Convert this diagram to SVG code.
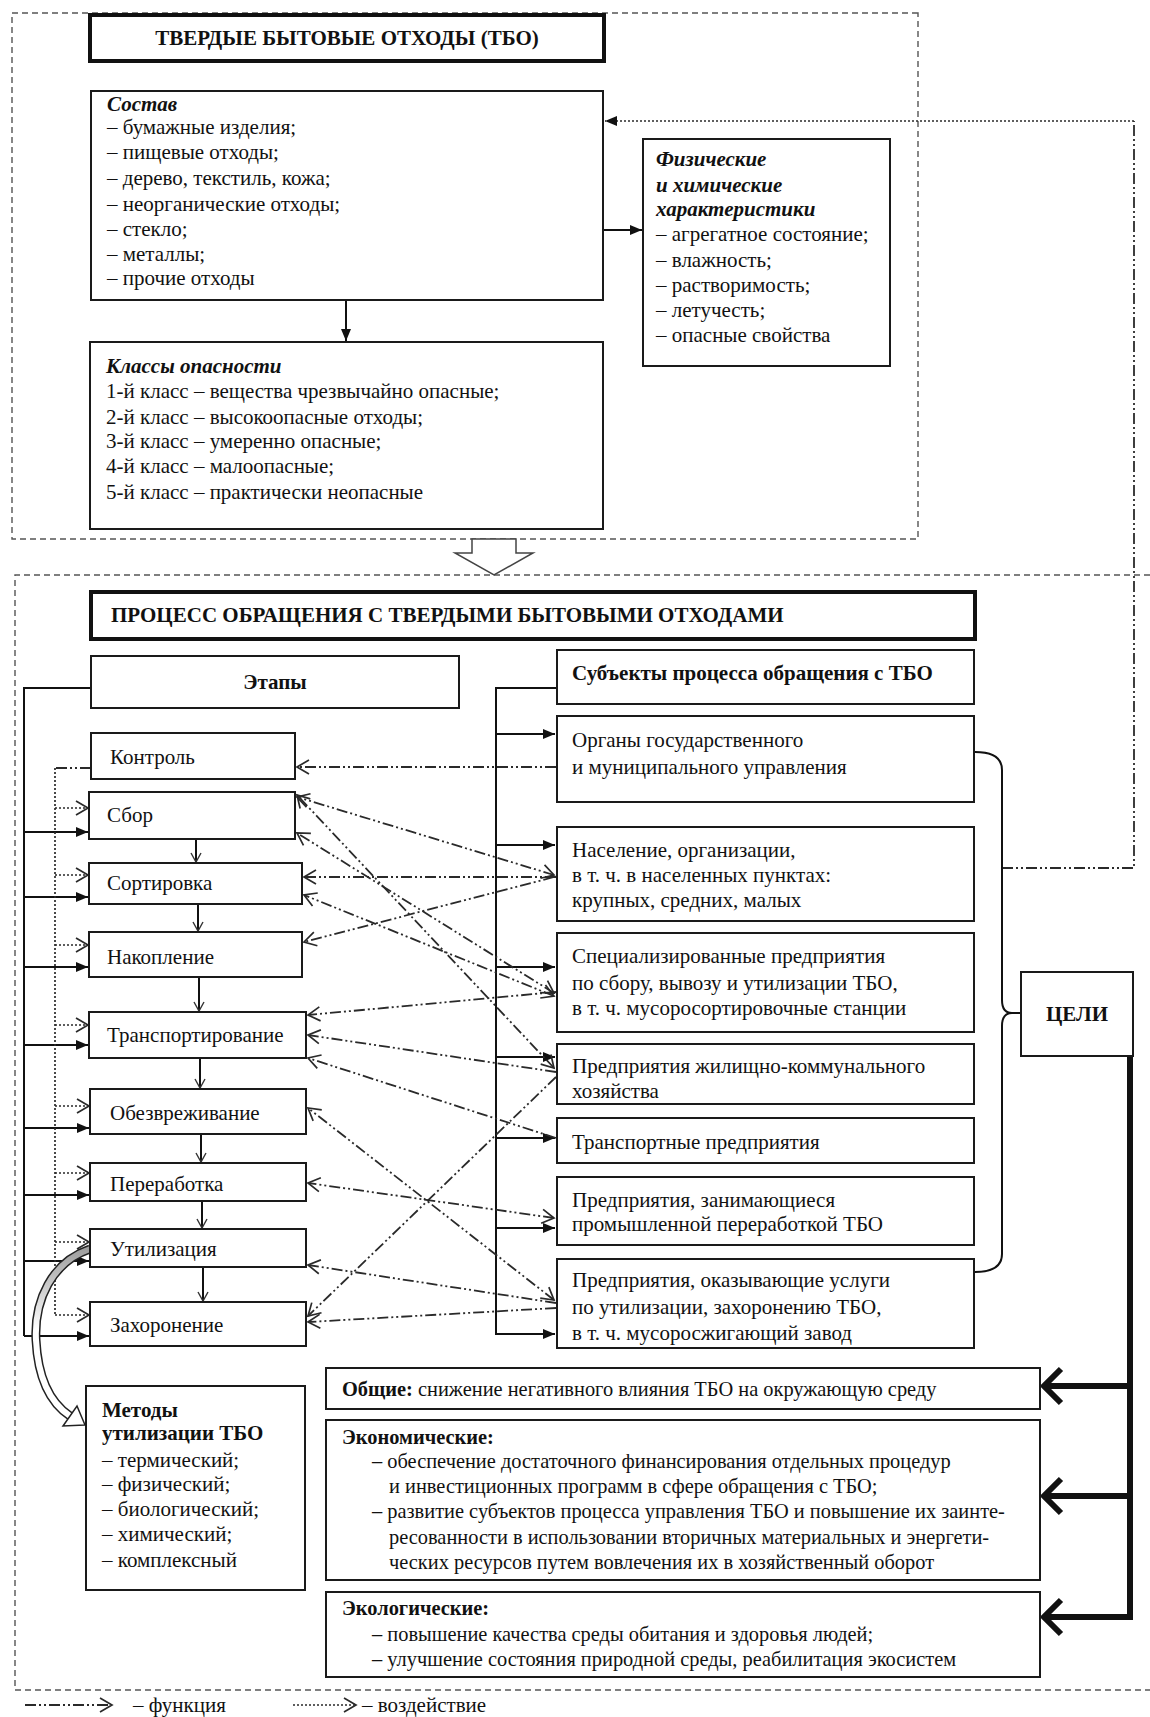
<svg xmlns="http://www.w3.org/2000/svg" width="1150" height="1717" viewBox="0 0 1150 1717">
<defs>
<style>
.t{font-family:"Liberation Serif","Times New Roman",serif;font-size:21px;fill:#111}
.g{font-size:20.4px}
.b{font-weight:bold}
.bi{font-weight:bold;font-style:italic}
.box{fill:#fff;stroke:#1a1a1a;stroke-width:2}
.tbox{fill:#fff;stroke:#111;stroke-width:4}
.sol{fill:none;stroke:#111;stroke-width:2}
.fn{fill:none;stroke:#2a2a2a;stroke-width:1.8;stroke-dasharray:11 3 2 3 2 3}
.dt{fill:none;stroke:#2a2a2a;stroke-width:1.7;stroke-dasharray:2 2}
.frame{fill:none;stroke:#555;stroke-width:1.4;stroke-dasharray:6 4}
.thick{fill:none;stroke:#111;stroke-width:6}
</style>
<marker id="af" markerUnits="userSpaceOnUse" markerWidth="14" markerHeight="12" refX="12" refY="6" orient="auto"><path d="M0,1 L12,6 L0,11 Z" fill="#111"/></marker>
<marker id="ao" markerUnits="userSpaceOnUse" markerWidth="16" markerHeight="16" refX="13" refY="8" orient="auto-start-reverse"><path d="M1,1 L13,8 L1,15" fill="none" stroke="#2a2a2a" stroke-width="1.7"/></marker>
<marker id="av" markerUnits="userSpaceOnUse" markerWidth="12" markerHeight="12" refX="10" refY="6" orient="auto"><path d="M1,1 L10,6 L1,11" fill="none" stroke="#333" stroke-width="1.4"/></marker>
<linearGradient id="cg" gradientUnits="userSpaceOnUse" x1="0" y1="1245" x2="0" y2="1330"><stop offset="0" stop-color="#9a9a9a"/><stop offset="1" stop-color="#ffffff"/></linearGradient>
</defs>
<rect width="1150" height="1717" fill="#fff"/>

<g id="frames">
<path class="frame" d="M918,13 L12,13 L12,539 L918,539 Z"/>
<path class="frame" d="M1150,575 L15,575 L15,1690 L1150,1690" stroke-dasharray="5 3"/>
<polygon points="472,539 516,539 516,553 533,553 494,575 455,553 472,553" fill="#fff" stroke="#444" stroke-width="1.5"/>
</g>

<g id="connectors">
<line class="sol" x1="346" y1="300" x2="346" y2="341" marker-end="url(#af)"/>
<line class="sol" x1="603" y1="230" x2="642" y2="230" marker-end="url(#af)" stroke-width="2.5"/>
<path class="fn" d="M1002,868 L1134,868 L1134,121"/>
<path class="dt" d="M1134,121 L605,121" stroke-width="2.2" marker-end="url(#af)"/>

<path class="sol" d="M91,688 L24,688 L24,1336"/>
<line class="sol" x1="24" y1="832" x2="88" y2="832" marker-end="url(#af)"/>
<line class="sol" x1="24" y1="897" x2="88" y2="897" marker-end="url(#af)"/>
<line class="sol" x1="24" y1="967" x2="88" y2="967" marker-end="url(#af)"/>
<line class="sol" x1="24" y1="1045" x2="88" y2="1045" marker-end="url(#af)"/>
<line class="sol" x1="24" y1="1128" x2="89" y2="1128" marker-end="url(#af)"/>
<line class="sol" x1="24" y1="1195" x2="89" y2="1195" marker-end="url(#af)"/>
<line class="sol" x1="24" y1="1261" x2="89" y2="1261" marker-end="url(#af)"/>
<line class="sol" x1="24" y1="1336" x2="89" y2="1336" marker-end="url(#af)"/>

<path class="fn" d="M91,768 L55,768"/>
<path class="dt" d="M55,768 L55,1315"/>
<line class="dt" x1="55" y1="808" x2="88" y2="808" marker-end="url(#ao)"/>
<line class="dt" x1="55" y1="875" x2="88" y2="875" marker-end="url(#ao)"/>
<line class="dt" x1="55" y1="945" x2="88" y2="945" marker-end="url(#ao)"/>
<line class="dt" x1="55" y1="1025" x2="88" y2="1025" marker-end="url(#ao)"/>
<line class="dt" x1="55" y1="1106" x2="89" y2="1106" marker-end="url(#ao)"/>
<line class="dt" x1="55" y1="1173" x2="89" y2="1173" marker-end="url(#ao)"/>
<line class="dt" x1="55" y1="1242" x2="89" y2="1242" marker-end="url(#ao)"/>
<line class="dt" x1="55" y1="1315" x2="89" y2="1315" marker-end="url(#ao)"/>

<line class="sol" stroke-width="1.4" x1="196" y1="840" x2="196" y2="862" marker-end="url(#av)"/>
<line class="sol" stroke-width="1.4" x1="198" y1="905" x2="198" y2="931" marker-end="url(#av)"/>
<line class="sol" stroke-width="1.4" x1="199" y1="978" x2="199" y2="1011" marker-end="url(#av)"/>
<line class="sol" stroke-width="1.4" x1="200" y1="1059" x2="200" y2="1088" marker-end="url(#av)"/>
<line class="sol" stroke-width="1.4" x1="201" y1="1135" x2="201" y2="1162" marker-end="url(#av)"/>
<line class="sol" stroke-width="1.4" x1="202" y1="1202" x2="202" y2="1228" marker-end="url(#av)"/>
<line class="sol" stroke-width="1.4" x1="203" y1="1268" x2="203" y2="1301" marker-end="url(#av)"/>

<path class="sol" d="M557,688 L496,688 L496,1334 L555,1334" marker-end="url(#af)"/>
<line class="sol" x1="496" y1="734" x2="555" y2="734" marker-end="url(#af)"/>
<line class="sol" x1="496" y1="845" x2="555" y2="845" marker-end="url(#af)"/>
<line class="sol" x1="496" y1="967" x2="555" y2="967" marker-end="url(#af)"/>
<line class="sol" x1="496" y1="1057" x2="555" y2="1057" marker-end="url(#af)"/>
<line class="sol" x1="496" y1="1138" x2="555" y2="1138" marker-end="url(#af)"/>
<line class="sol" x1="496" y1="1228" x2="555" y2="1228" marker-end="url(#af)"/>

<line class="fn" x1="556" y1="767" x2="297" y2="767" marker-end="url(#ao)"/>
<line class="fn" x1="554" y1="875" x2="297" y2="797" marker-start="url(#ao)" marker-end="url(#ao)"/>
<line class="fn" x1="554" y1="1068" x2="297" y2="795" marker-start="url(#ao)" marker-end="url(#ao)"/>
<line class="fn" x1="554" y1="993" x2="297" y2="833" marker-start="url(#ao)" marker-end="url(#ao)"/>
<line class="fn" x1="556" y1="877" x2="304" y2="877" marker-end="url(#ao)"/>
<line class="fn" x1="554" y1="996" x2="304" y2="895" marker-start="url(#ao)" marker-end="url(#ao)"/>
<line class="fn" x1="554" y1="877" x2="304" y2="942" marker-end="url(#ao)"/>
<line class="fn" x1="556" y1="992" x2="308" y2="1015" marker-end="url(#ao)"/>
<line class="fn" x1="556" y1="1072" x2="308" y2="1035" marker-end="url(#ao)"/>
<line class="fn" x1="556" y1="1138" x2="308" y2="1058" marker-end="url(#ao)"/>
<line class="fn" x1="554" y1="1300" x2="308" y2="1108" marker-start="url(#ao)" marker-end="url(#ao)"/>
<line class="fn" x1="554" y1="1218" x2="308" y2="1183" marker-start="url(#ao)" marker-end="url(#ao)"/>
<line class="fn" x1="556" y1="1303" x2="308" y2="1265" marker-end="url(#ao)"/>
<line class="fn" x1="556" y1="1308" x2="308" y2="1322" marker-end="url(#ao)"/>
<line class="fn" x1="556" y1="1077" x2="308" y2="1316" marker-end="url(#ao)"/>

<path class="sol" d="M975,752 Q1002,752 1002,770 L1002,1000 Q1002,1013 1012,1013 L1021,1013 M1012,1013 Q1002,1013 1002,1026 L1002,1254 Q1002,1272 975,1272"/>

<path class="thick" d="M1130,1056 L1130,1620"/>
<path class="thick" d="M1130,1386 L1046,1386 M1061,1369 L1044,1386 L1061,1403" stroke-width="5"/>
<path class="thick" d="M1130,1496 L1046,1496 M1061,1479 L1044,1496 L1061,1513" stroke-width="5"/>
<path class="thick" d="M1133,1617 L1046,1617 M1061,1600 L1044,1617 L1061,1634" stroke-width="5"/>

<path d="M90,1249 C52,1262 34,1300 36,1340 C38,1380 52,1404 70,1416" fill="none" stroke="#222" stroke-width="9"/>
<path d="M90,1249 C52,1262 34,1300 36,1340 C38,1380 52,1404 70,1416" fill="none" stroke="url(#cg)" stroke-width="6"/>
<polygon points="85,1425 63,1426 77,1406" fill="#fff" stroke="#222" stroke-width="1.5"/>
</g>

<g id="title1">
<rect class="tbox" x="90" y="15" width="514" height="46"/>
<text class="t b" x="347" y="45" text-anchor="middle">ТВЕРДЫЕ БЫТОВЫЕ ОТХОДЫ (ТБО)</text>
</g>
<g id="sostav">
<rect class="box" x="91" y="91" width="512" height="209"/>
<text class="t bi" x="107" y="111">Состав</text>
<text class="t" x="107" y="134">– бумажные изделия;</text>
<text class="t" x="107" y="159">– пищевые отходы;</text>
<text class="t" x="107" y="185">– дерево, текстиль, кожа;</text>
<text class="t" x="107" y="211">– неорганические отходы;</text>
<text class="t" x="107" y="236">– стекло;</text>
<text class="t" x="107" y="261">– металлы;</text>
<text class="t" x="107" y="285">– прочие отходы</text>
</g>
<g id="klassy">
<rect class="box" x="90" y="342" width="513" height="187"/>
<text class="t bi" x="106" y="373">Классы опасности</text>
<text class="t" x="106" y="398">1-й класс – вещества чрезвычайно опасные;</text>
<text class="t" x="106" y="424">2-й класс – высокоопасные отходы;</text>
<text class="t" x="106" y="448">3-й класс – умеренно опасные;</text>
<text class="t" x="106" y="473">4-й класс – малоопасные;</text>
<text class="t" x="106" y="499">5-й класс – практически неопасные</text>
</g>
<g id="fizika">
<rect class="box" x="643" y="139" width="247" height="227"/>
<text class="t bi" x="656" y="166">Физические</text>
<text class="t bi" x="656" y="192">и химические</text>
<text class="t bi" x="656" y="216">характеристики</text>
<text class="t" x="656" y="241">– агрегатное состояние;</text>
<text class="t" x="656" y="267">– влажность;</text>
<text class="t" x="656" y="292">– растворимость;</text>
<text class="t" x="656" y="317">– летучесть;</text>
<text class="t" x="656" y="342">– опасные свойства</text>
</g>

<g id="title2">
<rect class="tbox" x="91" y="592" width="884" height="47"/>
<text class="t b" x="111" y="622">ПРОЦЕСС ОБРАЩЕНИЯ С ТВЕРДЫМИ БЫТОВЫМИ ОТХОДАМИ</text>
</g>
<g id="etapy">
<rect class="box" x="91" y="656" width="368" height="52"/>
<text class="t b" x="275" y="689" text-anchor="middle">Этапы</text>
</g>
<g id="kontrol"><rect class="box" x="91" y="733" width="204" height="46"/><text class="t" x="110" y="764">Контроль</text></g>
<g id="sbor"><rect class="box" x="89" y="792" width="206" height="47"/><text class="t" x="107" y="822">Сбор</text></g>
<g id="sortirovka"><rect class="box" x="89" y="863" width="213" height="41"/><text class="t" x="107" y="890">Сортировка</text></g>
<g id="nakoplenie"><rect class="box" x="89" y="932" width="213" height="45"/><text class="t" x="107" y="964">Накопление</text></g>
<g id="transport"><rect class="box" x="89" y="1012" width="217" height="46"/><text class="t" x="107" y="1042">Транспортирование</text></g>
<g id="obezvr"><rect class="box" x="90" y="1089" width="216" height="45"/><text class="t" x="110" y="1120">Обезвреживание</text></g>
<g id="pererab"><rect class="box" x="90" y="1163" width="216" height="38"/><text class="t" x="110" y="1191">Переработка</text></g>
<g id="utiliz"><rect class="box" x="90" y="1229" width="216" height="38"/><text class="t" x="110" y="1256">Утилизация</text></g>
<g id="zahor"><rect class="box" x="90" y="1302" width="216" height="44"/><text class="t" x="110" y="1332">Захоронение</text></g>

<g id="subjects">
<rect class="box" x="557" y="650" width="417" height="54"/>
<text class="t b" x="572" y="680">Субъекты процесса обращения с ТБО</text>
</g>
<g id="organy"><rect class="box" x="557" y="716" width="417" height="86"/>
<text class="t" x="572" y="747">Органы государственного</text>
<text class="t" x="572" y="774">и муниципального управления</text></g>
<g id="naselenie"><rect class="box" x="557" y="827" width="417" height="94"/>
<text class="t" x="572" y="857">Население, организации,</text>
<text class="t" x="572" y="882">в т. ч. в населенных пунктах:</text>
<text class="t" x="572" y="907">крупных, средних, малых</text></g>
<g id="spec"><rect class="box" x="557" y="933" width="417" height="99"/>
<text class="t" x="572" y="963">Специализированные предприятия</text>
<text class="t" x="572" y="990">по сбору, вывозу и утилизации ТБО,</text>
<text class="t" x="572" y="1015">в т. ч. мусоросортировочные станции</text></g>
<g id="zhkh"><rect class="box" x="557" y="1044" width="417" height="60"/>
<text class="t" x="572" y="1073">Предприятия жилищно-коммунального</text>
<text class="t" x="572" y="1098">хозяйства</text></g>
<g id="transp"><rect class="box" x="557" y="1118" width="417" height="45"/>
<text class="t" x="572" y="1149">Транспортные предприятия</text></g>
<g id="pererab2"><rect class="box" x="557" y="1177" width="417" height="68"/>
<text class="t" x="572" y="1207">Предприятия, занимающиеся</text>
<text class="t" x="572" y="1231">промышленной переработкой ТБО</text></g>
<g id="uslugi"><rect class="box" x="557" y="1259" width="417" height="89"/>
<text class="t" x="572" y="1287">Предприятия, оказывающие услуги</text>
<text class="t" x="572" y="1314">по утилизации, захоронению ТБО,</text>
<text class="t" x="572" y="1340">в т. ч. мусоросжигающий завод</text></g>

<g id="celi"><rect class="box" x="1021" y="972" width="112" height="84"/>
<text class="t b" x="1077" y="1021" text-anchor="middle">ЦЕЛИ</text></g>

<g id="metody"><rect class="box" x="86" y="1386" width="219" height="204"/>
<text class="t b" x="102" y="1417">Методы</text>
<text class="t b" x="102" y="1440">утилизации ТБО</text>
<text class="t" x="102" y="1467">– термический;</text>
<text class="t" x="102" y="1491">– физический;</text>
<text class="t" x="102" y="1516">– биологический;</text>
<text class="t" x="102" y="1541">– химический;</text>
<text class="t" x="102" y="1567">– комплексный</text></g>

<g id="obshie"><rect class="box" x="326" y="1368" width="714" height="41"/>
<text class="t g" x="342" y="1396"><tspan class="b">Общие:</tspan> снижение негативного влияния ТБО на окружающую среду</text></g>
<g id="econ"><rect class="box" x="326" y="1420" width="714" height="160"/>
<text class="t g b" x="342" y="1444">Экономические:</text>
<text class="t g" x="372" y="1468">– обеспечение достаточного финансирования отдельных процедур</text>
<text class="t g" x="389" y="1493">и инвестиционных программ в сфере обращения с ТБО;</text>
<text class="t g" x="372" y="1518">– развитие субъектов процесса управления ТБО и повышение их заинте-</text>
<text class="t g" x="389" y="1544">ресованности в использовании вторичных материальных и энергети-</text>
<text class="t g" x="389" y="1569">ческих ресурсов путем вовлечения их в хозяйственный оборот</text></g>
<g id="ecol"><rect class="box" x="326" y="1592" width="714" height="85"/>
<text class="t g b" x="342" y="1615">Экологические:</text>
<text class="t g" x="372" y="1641">– повышение качества среды обитания и здоровья людей;</text>
<text class="t g" x="372" y="1666">– улучшение состояния природной среды, реабилитация экосистем</text></g>

<g id="legend">
<line class="fn" x1="25" y1="1705" x2="112" y2="1705" marker-end="url(#ao)"/>
<text class="t" x="133" y="1712">– функция</text>
<line class="dt" x1="293" y1="1705" x2="356" y2="1705" marker-end="url(#ao)"/>
<text class="t" x="362" y="1712">– воздействие</text>
</g>
</svg>
